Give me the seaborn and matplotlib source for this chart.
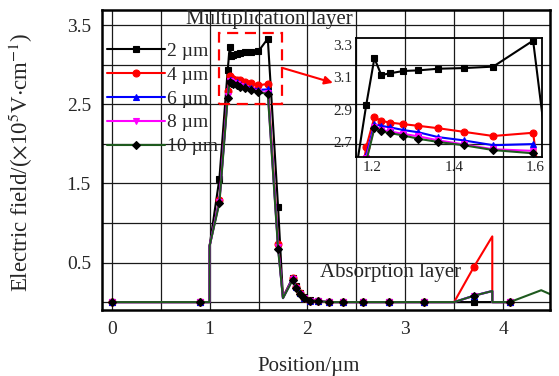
import matplotlib
matplotlib.use("Agg")
import matplotlib.pyplot as plt
from matplotlib.ticker import MultipleLocator, FuncFormatter
from matplotlib.patches import Rectangle
import seaborn as sns

# Positions shared by all curves (um)
x_common = [0.0, 0.9, 1.0, 1.0, 1.1, 1.185, 1.205, 1.222, 1.244, 1.276, 1.313,
            1.362, 1.424, 1.497, 1.595, 1.70, 1.75, 1.85, 1.88, 1.92, 1.97,
            2.03, 2.11, 2.22, 2.36, 2.57, 2.83, 3.19, 3.5]
mark_common = [True, True, False, False, True, True, True, True, True, True, True,
               True, True, True, True, True, False, True, True, True, True,
               True, True, True, True, True, True, True, False]

# absorption layer part
x_tail = [3.70, 3.89, 3.89, 4.07, 4.39, 4.5]
mark_tail = [True, False, False, True, False, False]

# electric field (x1e5 V/cm)
e_2um = [0, 0, 0, 0.71, 1.56, 2.93, 3.218, 3.114, 3.125, 3.139, 3.143,
         3.153, 3.157, 3.166, 3.327, 1.20, 0.06, 0.31, 0.20, 0.12, 0.06,
         0.03, 0.01, 0, 0, 0, 0, 0, 0]
e_4um = [0, 0, 0, 0.71, 1.29, 2.67, 2.852, 2.83, 2.82, 2.81, 2.80,
         2.785, 2.763, 2.737, 2.757, 0.73, 0.06, 0.30, 0.19, 0.11, 0.05,
         0.02, 0.01, 0, 0, 0, 0, 0, 0]
e_6um = [0, 0, 0, 0.71, 1.28, 2.62, 2.81, 2.80, 2.79, 2.774, 2.76,
         2.73, 2.71, 2.68, 2.687, 0.70, 0.05, 0.30, 0.19, 0.11, 0.05,
         0.02, 0.01, 0, 0, 0, 0, 0, 0]
e_8um = [0, 0, 0, 0.71, 1.27, 2.60, 2.79, 2.775, 2.765, 2.75, 2.735,
         2.71, 2.685, 2.655, 2.645, 0.69, 0.05, 0.29, 0.18, 0.10, 0.05,
         0.02, 0.01, 0, 0, 0, 0, 0, 0]
e_10um = [0, 0, 0, 0.71, 1.25, 2.58, 2.785, 2.765, 2.755, 2.74, 2.72,
          2.70, 2.68, 2.65, 2.63, 0.67, 0.05, 0.28, 0.18, 0.10, 0.05,
          0.02, 0.01, 0, 0, 0, 0, 0, 0]

tail_2um = [0, 0, 0, 0]
tail_4um = [0.44, 0.83, 0, 0]
tail_6um = [0.08, 0.14, 0, 0]
tail_8um = [0.08, 0.14, 0, 0]
tail_10um = [0.08, 0.14, 0, 0, 0.15, 0.09]

labels = ["2 µm", "4 µm", "6 µm", "8 µm", "10 µm"]
line_colors = ["black", "#ff0000", "#0000ff", "#ff00ff", "#1e5a1e"]
marker_colors = ["black", "#ff0000", "#0000ff", "#ff00ff", "black"]
markers = ["s", "o", "^", "v", "D"]
values = [e_2um, e_4um, e_6um, e_8um, e_10um]
tails = [tail_2um, tail_4um, tail_6um, tail_8um, tail_10um]

sns.set_style("white")
plt.rcParams['font.family'] = ['Liberation Serif', 'DejaVu Serif']
plt.rcParams['mathtext.fontset'] = 'stix'

fig = plt.figure(figsize=(5.59, 3.76), dpi=100)
ax = fig.add_axes([0.1825, 0.1755, 0.8014, 0.798])
ins = fig.add_axes([0.637, 0.5824, 0.3327, 0.3165])
ins.patch.set_alpha(0)


def draw(a, i, ms, with_label):
    xs = x_common + x_tail[:len(tails[i])]
    ys = values[i] + tails[i]
    mk = mark_common + mark_tail[:len(tails[i])]
    sns.lineplot(x=xs, y=ys, ax=a, estimator=None, sort=False,
                 color=line_colors[i], lw=1.5, marker=markers[i],
                 markersize=ms, markevery=mk,
                 markerfacecolor=marker_colors[i],
                 markeredgecolor=marker_colors[i], markeredgewidth=0.8,
                 label=labels[i] if with_label else None, legend=False)


for i in range(len(labels)):
    ms = 4.2 if markers[i] == "D" else 5.0
    draw(ax, i, ms, True)
    draw(ins, i, ms, False)

# main axes
ax.set_xlim(-0.1, 4.48)
ax.set_ylim(-0.1, 3.69)
ax.xaxis.set_major_locator(MultipleLocator(0.5))
ax.xaxis.set_minor_locator(MultipleLocator(0.25))
ax.yaxis.set_major_locator(MultipleLocator(0.5))
ax.yaxis.set_minor_locator(MultipleLocator(0.25))
ax.xaxis.set_major_formatter(FuncFormatter(
    lambda v, p: f"{v:.0f}" if abs(v - round(v)) < 1e-6 else ""))
ax.yaxis.set_major_formatter(FuncFormatter(
    lambda v, p: f"{v:.1f}" if round(v * 2) % 2 == 1 else ""))
ax.tick_params(which='both', direction='in', top=False, right=False,
               labelsize=14, pad=8, width=1.2, color='k')
ax.tick_params(which='major', length=5)
ax.tick_params(which='minor', length=3)
ax.grid(True, which='major', color='0.1', lw=0.9)
for s in ax.spines.values():
    s.set_linewidth(1.8)
    s.set_color('k')

ax.set_xlabel("Position/µm", fontsize=15)
ax.set_ylabel(r"Electric field/($\times$10$^5$V$\cdot$cm$^{-1}$)", fontsize=16.5)
ax.xaxis.set_label_coords(0.462, -0.155)
ax.yaxis.set_label_coords(-0.15, 0.493)

ax.legend(loc='upper left', bbox_to_anchor=(0.011, 0.892), frameon=False,
          fontsize=14, handlelength=3.0, handletextpad=0.1,
          labelspacing=0.32, borderaxespad=0, borderpad=0)

ax.text(1.616, 3.565, "Multiplication layer", fontsize=15,
        ha='center', va='center')
ax.text(2.854, 0.38, "Absorption layer", fontsize=15,
        ha='center', va='center')

ax.add_patch(Rectangle((1.095, 2.50), 0.644, 0.90, fill=False,
                       edgecolor='#ff0000', lw=1.6, ls=(0, (5, 3)), zorder=5))
ax.annotate("", xy=(2.26, 2.77), xytext=(1.739, 2.96),
            arrowprops=dict(arrowstyle='-|>', color='#ff0000', lw=1.5,
                            mutation_scale=12, shrinkA=0, shrinkB=0))

# inset
ins.set_xlim(1.16, 1.617)
ins.set_ylim(2.607, 3.343)
ins.set_xticks([1.2, 1.4, 1.6])
ins.set_yticks([2.7, 2.9, 3.1, 3.3])
ins.xaxis.set_minor_locator(MultipleLocator(0.05))
ins.yaxis.set_minor_locator(MultipleLocator(0.1))
ins.tick_params(which='both', direction='in', top=False, right=False,
                labelsize=11, pad=3, width=1.0, color='k')
ins.tick_params(which='major', length=4)
ins.tick_params(which='minor', length=2.5)
ins.grid(False)
ins.set_xlabel("")
ins.set_ylabel("")
for s in ins.spines.values():
    s.set_linewidth(1.3)
    s.set_color('k')

fig.savefig("out.png", dpi=100)
